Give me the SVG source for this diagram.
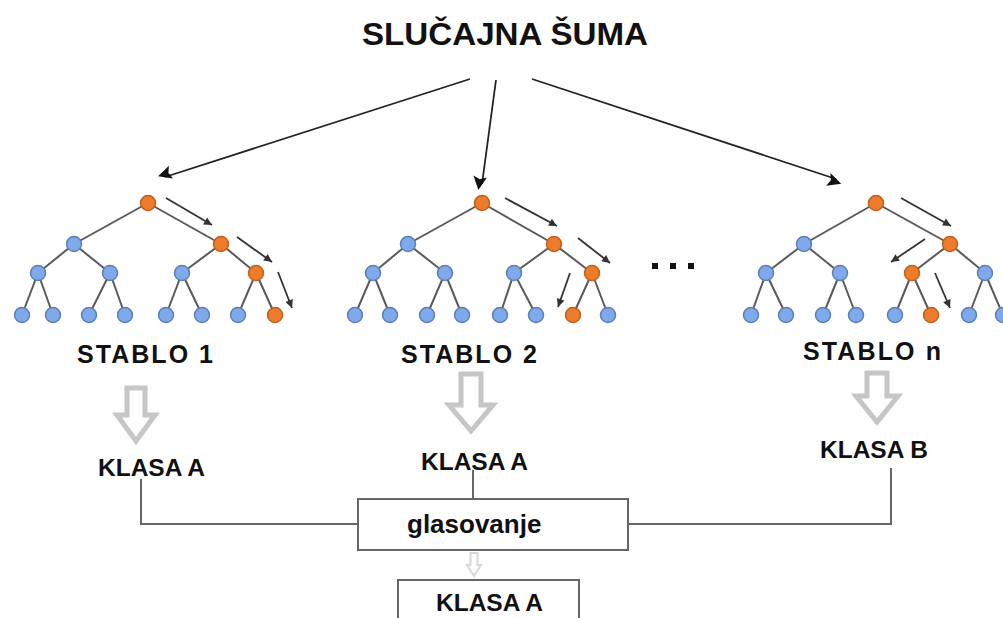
<svg xmlns="http://www.w3.org/2000/svg" width="1003" height="618" viewBox="0 0 1003 618">
<style>
.t{font-family:"Liberation Sans",Arial,sans-serif;font-weight:bold;fill:#111}
.e{stroke:#5a5a5a;stroke-width:2;fill:none}
.b{fill:#7ea9ea;stroke:#5d7fb5;stroke-width:1.5}
.o{fill:#ec7c2b;stroke:#c25f1a;stroke-width:1.5}
.sa{stroke:#333;stroke-width:1.8;fill:none;marker-end:url(#sh)}
.ma{stroke:#222;stroke-width:1.8;fill:none;marker-end:url(#mh)}
.ha{fill:#fff;stroke:#c6c6c6;stroke-width:5;stroke-linejoin:miter}
.ln{stroke:#666;stroke-width:2;fill:none}
.bx{fill:#fff;stroke:#666;stroke-width:2}
</style>
<defs>
<marker id="mh" viewBox="0 0 10 10" refX="9" refY="5" markerWidth="9" markerHeight="8" markerUnits="userSpaceOnUse" orient="auto" overflow="visible">
<path d="M0,0 L10,5 L0,10 L2,5 Z" fill="#111" transform="scale(1.7)"/>
</marker>
<marker id="sh" viewBox="0 0 10 10" refX="10" refY="5" markerWidth="10" markerHeight="8" markerUnits="userSpaceOnUse" orient="auto">
<path d="M0,0 L10,5 L0,10 Z" fill="#333"/>
</marker>
</defs>
<rect width="1003" height="618" fill="#fff"/>

<g id="title"><text class="t" x="362" y="45" font-size="32" textLength="286" lengthAdjust="spacingAndGlyphs">SLUČAJNA ŠUMA</text></g>

<g id="connectors">
<line class="ma" x1="470" y1="79" x2="165" y2="177"/>
<line class="ma" x1="496" y1="80" x2="482" y2="184"/>
<line class="ma" x1="532" y1="79" x2="836" y2="179"/>
<path class="ln" d="M141,479 V524 H358"/>
<path class="ln" d="M473,470 V499"/>
<path class="ln" d="M891,468 V524 H628"/>
<path class="ha" d="M127,388 H145 V415 H155 L136,441 L117,415 H127 Z"/>
<path class="ha" d="M461,374 H481 V405 H493 L471,431 L449,405 H461 Z"/>
<path class="ha" d="M867,373 H887 V396 H898 L877,422 L856,396 H867 Z"/>
<path d="M470.5,553 H477.5 V565 H481 L474,576 L467,565 H470.5 Z" fill="#fff" stroke="#d8d8d8" stroke-width="2"/>
</g>

<g id="tree1">
<path class="e" d="M148,203 L74,244 M148,203 L221,244 M74,244 L38,273 M74,244 L110,273 M221,244 L182,273 M221,244 L256,273 M38,273 L22,315 M38,273 L53,315 M110,273 L89,315 M110,273 L125,315 M182,273 L166,315 M182,273 L202,315 M256,273 L238,315 M256,273 L275,315"/>
<circle class="o" cx="148" cy="203" r="7.5"/>
<circle class="b" cx="74" cy="244" r="7.5"/><circle class="o" cx="221" cy="244" r="7.5"/>
<circle class="b" cx="38" cy="273" r="7.5"/><circle class="b" cx="110" cy="273" r="7.5"/><circle class="b" cx="182" cy="273" r="7.5"/><circle class="o" cx="256" cy="273" r="7.5"/>
<circle class="b" cx="22" cy="315" r="7.5"/><circle class="b" cx="53" cy="315" r="7.5"/><circle class="b" cx="89" cy="315" r="7.5"/><circle class="b" cx="125" cy="315" r="7.5"/><circle class="b" cx="166" cy="315" r="7.5"/><circle class="b" cx="202" cy="315" r="7.5"/><circle class="b" cx="238" cy="315" r="7.5"/><circle class="o" cx="275" cy="315" r="7.5"/>
<line class="sa" x1="166" y1="198" x2="212" y2="225"/>
<line class="sa" x1="237" y1="237" x2="272" y2="262"/>
<line class="sa" x1="278" y1="272" x2="292" y2="308"/>
<text class="t" x="77" y="363" font-size="25" textLength="136" lengthAdjust="spacing">STABLO 1</text>
</g>

<g id="tree2">
<path class="e" d="M482,203 L408,244 M482,203 L554,244 M408,244 L373,273 M408,244 L445,273 M554,244 L514,273 M554,244 L592,273 M373,273 L355,315 M373,273 L390,315 M445,273 L427,315 M445,273 L462,315 M514,273 L500,315 M514,273 L536,315 M592,273 L573,315 M592,273 L608,315"/>
<circle class="o" cx="482" cy="203" r="7.5"/>
<circle class="b" cx="408" cy="244" r="7.5"/><circle class="o" cx="554" cy="244" r="7.5"/>
<circle class="b" cx="373" cy="273" r="7.5"/><circle class="b" cx="445" cy="273" r="7.5"/><circle class="b" cx="514" cy="273" r="7.5"/><circle class="o" cx="592" cy="273" r="7.5"/>
<circle class="b" cx="355" cy="315" r="7.5"/><circle class="b" cx="390" cy="315" r="7.5"/><circle class="b" cx="427" cy="315" r="7.5"/><circle class="b" cx="462" cy="315" r="7.5"/><circle class="b" cx="500" cy="315" r="7.5"/><circle class="b" cx="536" cy="315" r="7.5"/><circle class="o" cx="573" cy="315" r="7.5"/><circle class="b" cx="608" cy="315" r="7.5"/>
<line class="sa" x1="505" y1="198" x2="557" y2="226"/>
<line class="sa" x1="578" y1="238" x2="610" y2="263"/>
<line class="sa" x1="570" y1="273" x2="558" y2="307"/>
<text class="t" x="401" y="363" font-size="25" textLength="136" lengthAdjust="spacing">STABLO 2</text>
</g>

<g id="dots" fill="#111">
<rect x="652" y="263" width="6" height="6"/><rect x="670" y="263" width="6" height="6"/><rect x="688" y="263" width="6" height="6"/>
</g>

<g id="treen">
<path class="e" d="M876,203 L804,244 M876,203 L950,244 M804,244 L766,273 M804,244 L840,273 M950,244 L912,273 M950,244 L985,273 M766,273 L751,315 M766,273 L786,315 M840,273 L823,315 M840,273 L856,315 M912,273 L895,315 M912,273 L931,315 M985,273 L969,315 M985,273 L1003,315"/>
<circle class="o" cx="876" cy="203" r="7.5"/>
<circle class="b" cx="804" cy="244" r="7.5"/><circle class="o" cx="950" cy="244" r="7.5"/>
<circle class="b" cx="766" cy="273" r="7.5"/><circle class="b" cx="840" cy="273" r="7.5"/><circle class="o" cx="912" cy="273" r="7.5"/><circle class="b" cx="985" cy="273" r="7.5"/>
<circle class="b" cx="751" cy="315" r="7.5"/><circle class="b" cx="786" cy="315" r="7.5"/><circle class="b" cx="823" cy="315" r="7.5"/><circle class="b" cx="856" cy="315" r="7.5"/><circle class="b" cx="895" cy="315" r="7.5"/><circle class="o" cx="931" cy="315" r="7.5"/><circle class="b" cx="969" cy="315" r="7.5"/><circle class="b" cx="1003" cy="315" r="7.5"/>
<line class="sa" x1="901" y1="198" x2="951" y2="226"/>
<line class="sa" x1="925" y1="239" x2="891" y2="262"/>
<line class="sa" x1="935" y1="273" x2="950" y2="308"/>
<text class="t" x="803" y="360" font-size="25" textLength="138" lengthAdjust="spacing">STABLO n</text>
</g>

<g id="klasa1"><text class="t" x="98" y="476" font-size="24.5">KLASA A</text></g>
<g id="klasa2"><text class="t" x="421" y="470" font-size="24.5">KLASA A</text></g>
<g id="klasan"><text class="t" x="820" y="458" font-size="24.5">KLASA B</text></g>

<g id="glasovanje">
<rect class="bx" x="358" y="499" width="270" height="51"/>
<text class="t" x="407" y="533" font-size="26">glasovanje</text>
</g>

<g id="rezultat">
<rect class="bx" x="398" y="580" width="181" height="50"/>
<text class="t" x="436" y="611" font-size="24.5">KLASA A</text>
</g>
</svg>
